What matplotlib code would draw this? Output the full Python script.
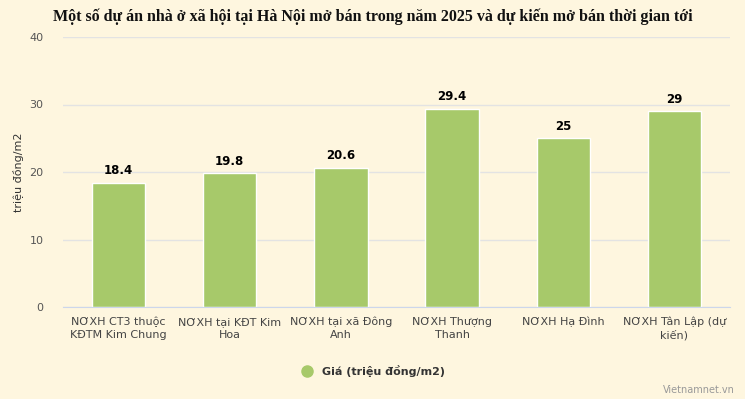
import matplotlib
matplotlib.use("Agg")
import matplotlib.pyplot as plt
from matplotlib.lines import Line2D

# du lieu doc tu bieu do
categories = [
    "NƠXH CT3 thuộc\nKĐTM Kim Chung",
    "NƠXH tại KĐT Kim\nHoa",
    "NƠXH tại xã Đông\nAnh",
    "NƠXH Thượng\nThanh",
    "NƠXH Hạ Đình",
    "NƠXH Tân Lập (dự\nkiến)",
]
prices = [18.4, 19.8, 20.6, 29.4, 25, 29]
y_ticks = [0, 10, 20, 30, 40]

title = "Một số dự án nhà ở xã hội tại Hà Nội mở bán trong năm 2025 và dự kiến mở bán thời gian tới"
series_name = "Giá (triệu đồng/m2)"
y_label = "triệu đồng/m2"

bg = "#FEF6DF"
bar_color = "#A7C96A"

plt.rcParams["font.family"] = ["DejaVu Sans"]

fig = plt.figure(figsize=(7.45, 3.99), dpi=100, facecolor=bg)
ax = fig.add_axes([63 / 745, 1 - 307 / 399, 667 / 745, 270 / 399])
ax.set_facecolor(bg)

x = list(range(len(categories)))
bars = ax.bar(x, prices, width=0.48, color=bar_color, edgecolor="white",
              linewidth=1, zorder=3)

for b, v in zip(bars, prices):
    ax.annotate(f"{v:g}", (b.get_x() + b.get_width() / 2, b.get_height()),
                xytext=(0, 4), textcoords="offset points", ha="center",
                va="bottom", fontsize=8.5, fontweight="bold", color="black",
                zorder=4)

ax.set_xlim(-0.5, len(categories) - 0.5)
ax.set_ylim(0, 40)
ax.set_yticks(y_ticks)
ax.set_xticks(x)
ax.set_xticklabels(categories, fontsize=8, color="#444444", linespacing=1.35)
ax.tick_params(axis="y", length=0, labelsize=8, labelcolor="#555555", pad=14)
ax.tick_params(axis="x", length=0, pad=7)
ax.grid(axis="y", color="#E3E3E3", linewidth=1, zorder=0)

for side in ["top", "right", "left"]:
    ax.spines[side].set_visible(False)
ax.spines["bottom"].set_color("#CCD6EB")
ax.spines["bottom"].set_zorder(5)

ax.set_ylabel(y_label, fontsize=8, color="#333333", labelpad=4)

fig.text(0.5, 1 - 17 / 399, title, ha="center", va="center",
         fontsize=11.5, fontweight="bold", family="Liberation Serif",
         color="#111111")

handle = Line2D([], [], marker="o", linestyle="none", markersize=8,
                markerfacecolor=bar_color, markeredgecolor=bar_color)
fig.legend([handle], [series_name], loc="center", bbox_to_anchor=(0.497, 1 - 371 / 399),
           frameon=False, handletextpad=0.3,
           prop={"size": 8, "weight": "bold"}, labelcolor="#333333")

fig.text(735 / 745, 1 - 390 / 399, "Vietnamnet.vn", ha="right", va="center",
         fontsize=7, color="#999999")

fig.savefig("out.png", dpi=100, facecolor=bg)
